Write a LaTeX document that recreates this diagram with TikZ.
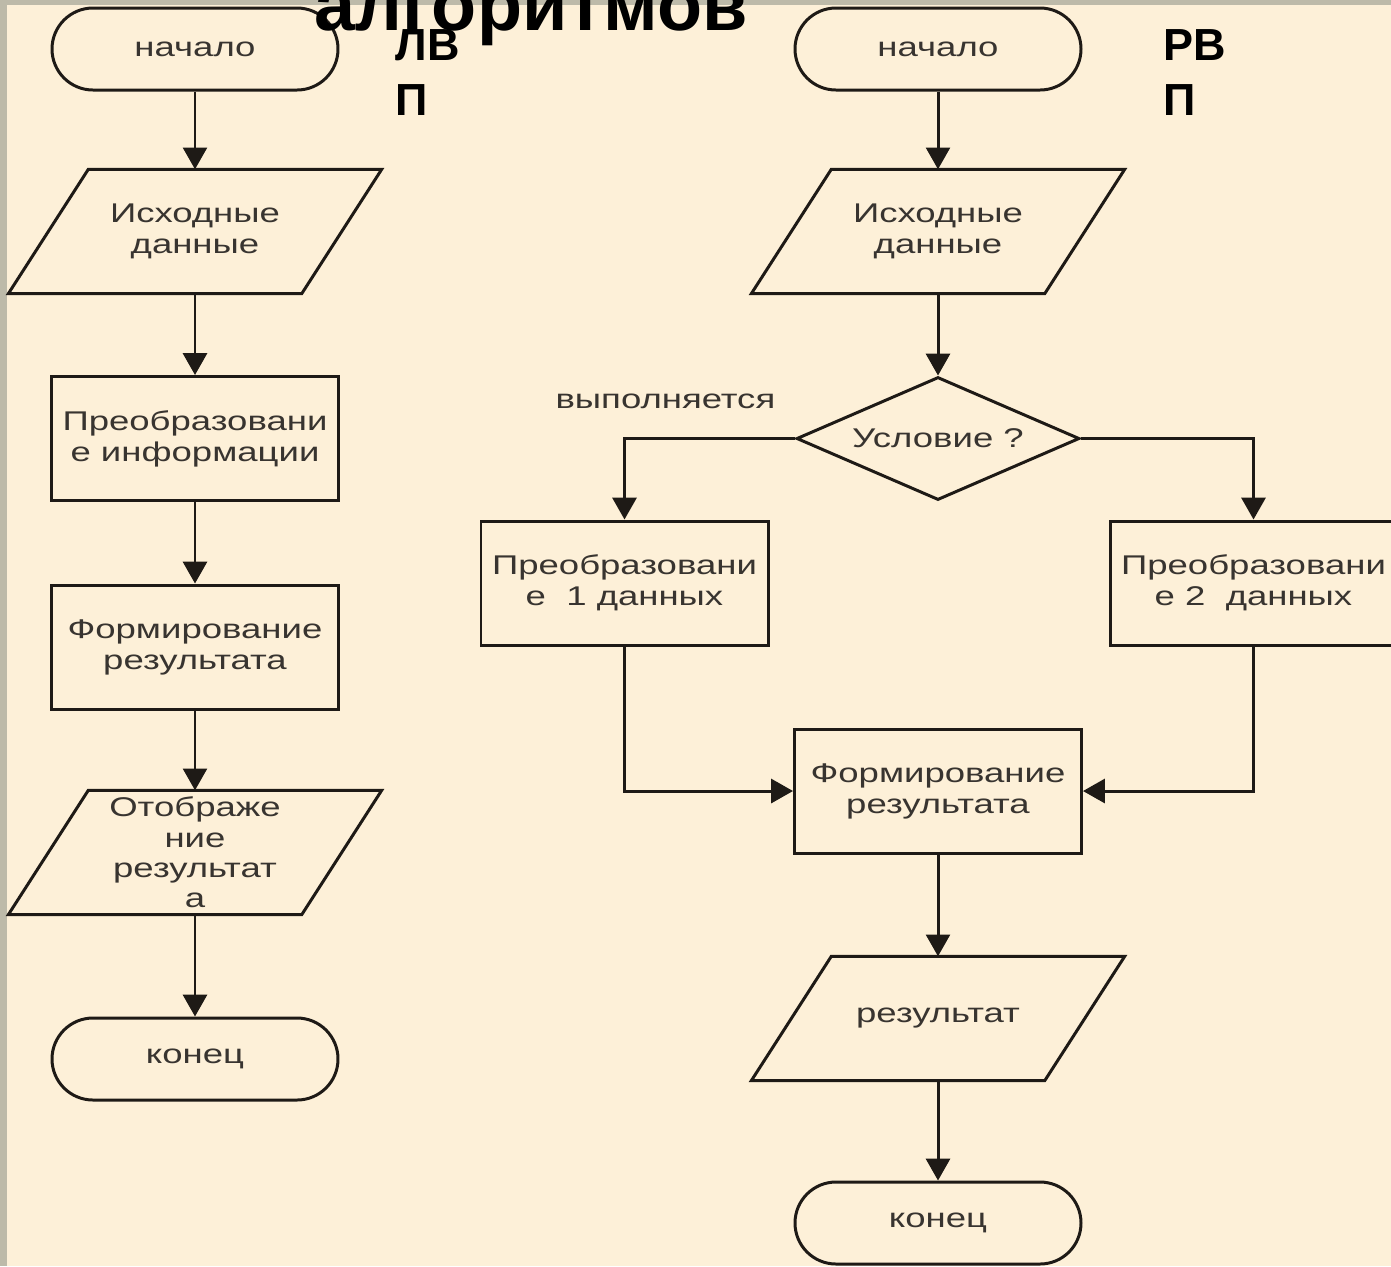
\documentclass[tikz,border=0pt]{standalone}
\usepackage{fontspec}
\setmainfont{Liberation Sans}
\newfontfamily\boxfont[FakeStretch=1.35]{Liberation Sans}
\usepackage{tikz}
\usetikzlibrary{shapes.geometric, arrows.meta, positioning}
\definecolor{slidebg}{HTML}{FDF0D8}
\definecolor{slidegray}{HTML}{BDBAA9}
\definecolor{inkline}{HTML}{1E1A16}
\definecolor{inktext}{HTML}{383430}
% slanted frame for input/output blocks
\newcommand{\ioframe}[1]{\draw[frame] (#1.north west) -- ([xshift=0.8cm]#1.north east) -- (#1.south east) -- ([xshift=-0.8cm]#1.south west) -- cycle;}

\begin{document}
\begin{tikzpicture}[
    node distance=2.07cm, on grid,
    every node/.style={font=\boxfont\fontsize{7.7}{8.8}\selectfont, text=inktext},
    frame/.style={draw=inkline, line width=0.85pt},
    term/.style={frame, rectangle, rounded corners=0.41cm, minimum width=2.86cm, minimum height=0.82cm},
    proc/.style={frame, rectangle, minimum width=2.87cm, minimum height=1.24cm, align=center, inner sep=1pt},
    io/.style={rectangle, minimum width=2.12cm, minimum height=1.23cm, align=center, inner sep=0pt},
    cond/.style={frame, diamond, aspect=2.3, minimum width=2.83cm, minimum height=1.23cm, inner sep=0pt},
    arrow/.style={-{Triangle[width=6.8pt,length=6.2pt]}, draw=inkline, line width=0.85pt},
    tag/.style={font=\bfseries\fontsize{12.8}{15.6}\selectfont, text=black, align=left, anchor=north west, inner sep=0pt}
]
\useasboundingbox (0,0) rectangle (13.91,-12.66);
\fill[slidebg] (0,0) rectangle (13.91,-12.66);
\fill[slidegray] (0,0) rectangle (0.07,-12.66);
\fill[slidegray] (0,0) rectangle (13.91,-0.05);

% linear process
\node[term] (start1) at (1.95,-0.49) {начало};
\node[io, below=1.825cm of start1] (in1) {Исходные\\данные};
\node[proc, below=of in1] (proc1) {Преобразовани\\е информации};
\node[proc, below=2.085cm of proc1] (res1) {Формирование\\результата};
\node[io, below=2.055cm of res1, font=\boxfont\fontsize{7.7}{8.6}\selectfont] (out1) {Отображе\\ние\\результат\\а};
\node[term, below=2.065cm of out1] (end1) {конец};
\ioframe{in1}
\ioframe{out1}

% branching process
\node[term] (start2) at (9.38,-0.49) {начало};
\node[io, below=1.825cm of start2] (in2) {Исходные\\данные};
\node[cond, below=of in2] (cond) {Условие ?};
\node[proc] (procA) at (6.245,-5.83) {Преобразовани\\е~~1 данных};
\node[proc] (procB) at (12.535,-5.83) {Преобразовани\\е 2~~данных};
\node[proc, below=3.525cm of cond] (res2) {Формирование\\результата};
\node[io, below=2.275cm of res2] (out2) {результат};
\node[term, below=2.045cm of out2] (end2) {конец};
\ioframe{in2}
\ioframe{out2}

\draw[arrow] (start1) -- (in1);
\draw[arrow] (in1) -- (proc1);
\draw[arrow] (proc1) -- (res1);
\draw[arrow] (res1) -- (out1);
\draw[arrow] (out1) -- (end1);

\draw[arrow] (start2) -- (in2);
\draw[arrow] (in2) -- (cond);
\draw[arrow] (cond.west) -| node[pos=0.38, above=0.28cm, inner sep=0pt, on grid=false] (yes) {выполняется} (procA);
\draw[arrow] (cond.east) -| (procB);
\draw[arrow] (procA) |- (res2);
\draw[arrow] (procB) |- (res2);
\draw[arrow] (res2) -- (out2);
\draw[arrow] (out2) -- (end2);

% headings
\node[tag] (lvp) at (3.95,-0.29) {ЛВ\\П};
\node[tag] (rvp) at (11.63,-0.29) {РВ\\П};
\node[font=\bfseries\fontsize{21}{24}\selectfont, text=black, anchor=base, inner sep=0pt] (title) at (5.31,-0.30) {алгоритмов};
\end{tikzpicture}
\end{document}
